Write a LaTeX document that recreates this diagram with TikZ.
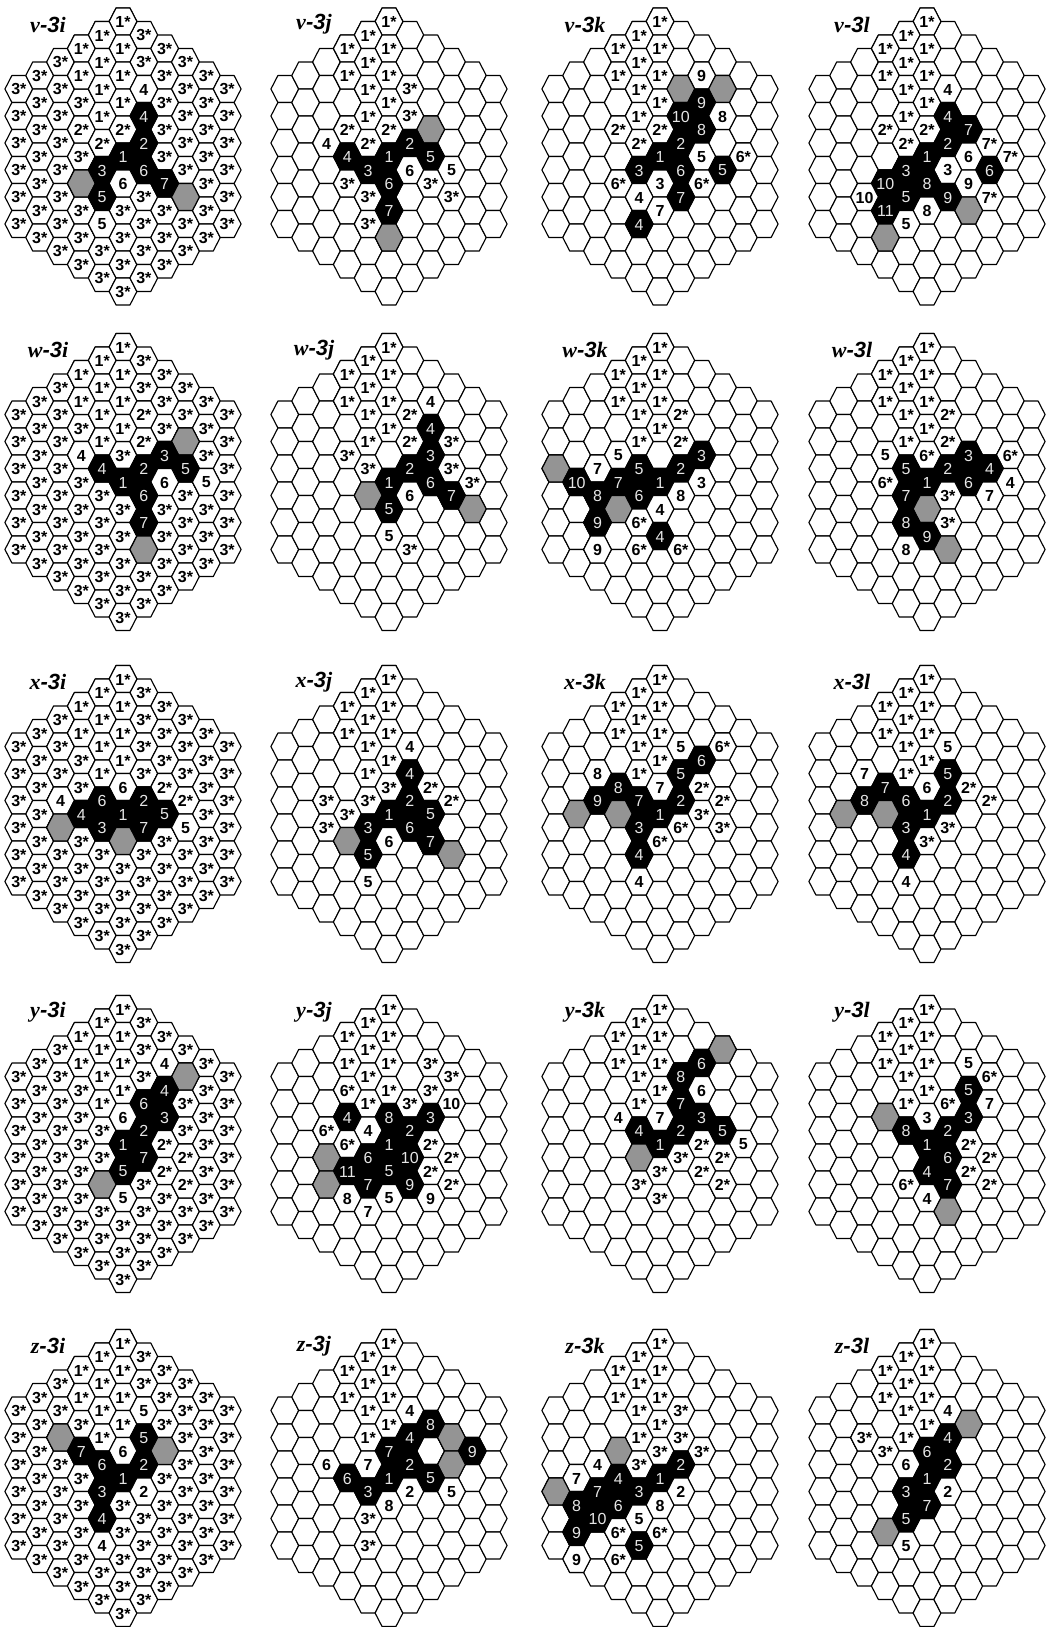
\documentclass[tikz,border=0pt]{standalone}
\usepackage{fontspec}
\setmainfont{Liberation Serif}
\setsansfont{Liberation Sans}
\usetikzlibrary{positioning}

\tikzset{
  wcell/.style={draw=black,line width=0.85pt,fill=white,line join=round},
  bcell/.style={draw=black,line width=0.85pt,fill=black,line join=round},
  gcell/.style={draw=black,line width=0.85pt,fill=black!42,line join=round},
  wlabel/.style={inner sep=0pt,font=\fontsize{12}{12}\selectfont\sffamily\bfseries,text=black},
  blabel/.style={inner sep=0pt,font=\fontsize{12}{12}\selectfont\sffamily,text=black!10},
  title/.style={inner sep=0pt,font=\fontsize{16.5}{18}\selectfont\bfseries}
}

\newcommand\hexpath{++(-13.9,0) -- ++(6.95,-13.5) -- ++(13.9,0) -- ++(6.95,13.5) -- ++(-6.95,13.5) -- ++(-13.9,0) -- cycle}
\newcommand\hexcell[5]{%
  \path[#3] (#1*20.83,#2*13.5) \hexpath;
  \node[#4] (c#1h#2) at (#1*20.83,#2*13.5+0.5) {#5};}
\newcommand\whex[3]{\hexcell{#1}{#2}{wcell}{wlabel}{#3}}
\newcommand\bhex[3]{\hexcell{#1}{#2}{bcell}{blabel}{#3}}
\newcommand\ghex[2]{\hexcell{#1}{#2}{gcell}{wlabel}{}}

% whole board, default label #1, then the 1* cells
\newcommand\board[1]{%
  \foreach \c in {-5,...,5}{%
    \pgfmathtruncatemacro\hlo{abs(\c)}%
    \pgfmathtruncatemacro\hnx{abs(\c)+2}%
    \pgfmathtruncatemacro\hhi{20-abs(\c)}%
    \foreach \h in {\hlo,\hnx,...,\hhi}{\whex{\c}{\h}{#1}}%
  }%
  \foreach \c/\h in {0/0,-1/1,-2/2,0/2,-1/3,-2/4,0/4,-1/5,0/6,-1/7}{\whex{\c}{\h}{1*}}%
}
\newcommand\paneltitle[2]{\node[title] (title) at (-75,3) {\textit{#1}\textsf{\textit{-3}}\textit{#2}};}

\begin{document}
\begin{tikzpicture}[x=0.75pt,y=-0.75pt]
  \useasboundingbox (0,0) rectangle (1056,1627);
  \fill[white] (0,0) rectangle (1056,1627);

  % row v
  \begin{scope}[shift={(123,21.5)},name prefix=v3i-]
    \board{3*}
    \whex{1}{5}{4} \bhex{1}{7}{4}
    \whex{-2}{8}{2*} \whex{0}{8}{2*} \whex{-1}{9}{2*}
    \bhex{1}{9}{2} \bhex{0}{10}{1} \bhex{-1}{11}{3} \bhex{1}{11}{6}
    \ghex{-2}{12} \whex{0}{12}{6} \bhex{2}{12}{7}
    \bhex{-1}{13}{5} \ghex{3}{13}
    \whex{-1}{15}{5}
    \paneltitle{v}{i}
  \end{scope}

  \begin{scope}[shift={(389,21.5)},name prefix=v3j-]
    \board{}
    \whex{1}{5}{3*} \whex{1}{7}{3*} \ghex{2}{8} \whex{-2}{8}{2*} \whex{0}{8}{2*}
    \whex{-3}{9}{4} \whex{-1}{9}{2*} \bhex{1}{9}{2}
    \bhex{-2}{10}{4} \bhex{0}{10}{1} \bhex{2}{10}{5}
    \bhex{-1}{11}{3} \whex{1}{11}{6} \whex{3}{11}{5}
    \whex{-2}{12}{3*} \bhex{0}{12}{6} \whex{2}{12}{3*}
    \whex{-1}{13}{3*} \whex{3}{13}{3*}
    \bhex{0}{14}{7} \whex{-1}{15}{3*} \ghex{0}{16}
    \paneltitle{v}{j}
  \end{scope}

  \begin{scope}[shift={(660,21.5)},name prefix=v3k-]
    \board{}
    \whex{2}{4}{9} \ghex{1}{5} \ghex{3}{5} \bhex{2}{6}{9} \bhex{1}{7}{10} \whex{3}{7}{8}
    \whex{-2}{8}{2*} \whex{0}{8}{2*} \bhex{2}{8}{8}
    \whex{-1}{9}{2*} \bhex{1}{9}{2}
    \bhex{0}{10}{1} \whex{2}{10}{5} \whex{4}{10}{6*}
    \bhex{-1}{11}{3} \bhex{1}{11}{6} \bhex{3}{11}{5}
    \whex{-2}{12}{6*} \whex{0}{12}{3} \whex{2}{12}{6*}
    \whex{-1}{13}{4} \bhex{1}{13}{7}
    \whex{0}{14}{7} \bhex{-1}{15}{4}
    \paneltitle{v}{k}
  \end{scope}

  \begin{scope}[shift={(927,21.5)},name prefix=v3l-]
    \board{}
    \whex{1}{5}{4} \bhex{1}{7}{4} \whex{-2}{8}{2*} \whex{0}{8}{2*} \bhex{2}{8}{7}
    \whex{-1}{9}{2*} \bhex{1}{9}{2} \whex{3}{9}{7*}
    \bhex{0}{10}{1} \whex{2}{10}{6} \whex{4}{10}{7*}
    \bhex{-1}{11}{3} \whex{1}{11}{3} \bhex{3}{11}{6}
    \bhex{-2}{12}{10} \bhex{0}{12}{8} \whex{2}{12}{9}
    \whex{-3}{13}{10} \bhex{-1}{13}{5} \bhex{1}{13}{9} \whex{3}{13}{7*}
    \bhex{-2}{14}{11} \whex{0}{14}{8} \ghex{2}{14}
    \whex{-1}{15}{5} \ghex{-2}{16}
    \paneltitle{v}{l}
  \end{scope}

  % row w
  \begin{scope}[shift={(123,347)},name prefix=w3i-]
    \board{3*}
    \whex{1}{5}{2*} \whex{1}{7}{2*} \ghex{3}{7}
    \whex{-2}{8}{4} \bhex{2}{8}{3}
    \bhex{-1}{9}{4} \bhex{1}{9}{2} \bhex{3}{9}{5}
    \bhex{0}{10}{1} \whex{2}{10}{6} \whex{4}{10}{5}
    \bhex{1}{11}{6} \bhex{1}{13}{7} \ghex{1}{15}
    \paneltitle{w}{i}
  \end{scope}

  \begin{scope}[shift={(389,347)},name prefix=w3j-]
    \board{}
    \whex{2}{4}{4} \whex{1}{5}{2*} \bhex{2}{6}{4} \whex{1}{7}{2*} \whex{3}{7}{3*}
    \whex{-2}{8}{3*} \bhex{2}{8}{3}
    \whex{-1}{9}{3*} \bhex{1}{9}{2} \whex{3}{9}{3*}
    \bhex{0}{10}{1} \bhex{2}{10}{6} \whex{4}{10}{3*}
    \ghex{-1}{11} \whex{1}{11}{6} \bhex{3}{11}{7}
    \bhex{0}{12}{5} \ghex{4}{12}
    \whex{0}{14}{5} \whex{1}{15}{3*}
    \paneltitle{w}{j}
  \end{scope}

  \begin{scope}[shift={(660,347)},name prefix=w3k-]
    \board{}
    \whex{1}{5}{2*} \whex{1}{7}{2*}
    \whex{-2}{8}{5} \bhex{2}{8}{3}
    \ghex{-5}{9} \whex{-3}{9}{7} \bhex{-1}{9}{5} \bhex{1}{9}{2}
    \bhex{-4}{10}{10} \bhex{-2}{10}{7} \bhex{0}{10}{1} \whex{2}{10}{3}
    \bhex{-3}{11}{8} \bhex{-1}{11}{6} \whex{1}{11}{8}
    \ghex{-2}{12} \whex{0}{12}{4}
    \bhex{-3}{13}{9} \whex{-1}{13}{6*}
    \bhex{0}{14}{4}
    \whex{-3}{15}{9} \whex{-1}{15}{6*} \whex{1}{15}{6*}
    \paneltitle{w}{k}
  \end{scope}

  \begin{scope}[shift={(927,347)},name prefix=w3l-]
    \board{}
    \whex{1}{5}{2*} \whex{1}{7}{2*}
    \whex{-2}{8}{5} \whex{0}{8}{6*} \bhex{2}{8}{3} \whex{4}{8}{6*}
    \bhex{-1}{9}{5} \bhex{1}{9}{2} \bhex{3}{9}{4}
    \whex{-2}{10}{6*} \bhex{0}{10}{1} \bhex{2}{10}{6} \whex{4}{10}{4}
    \bhex{-1}{11}{7} \whex{1}{11}{3*} \whex{3}{11}{7}
    \ghex{0}{12}
    \bhex{-1}{13}{8} \whex{1}{13}{3*}
    \bhex{0}{14}{9}
    \whex{-1}{15}{8} \ghex{1}{15}
    \paneltitle{w}{l}
  \end{scope}

  % row x
  \begin{scope}[shift={(123,679)},name prefix=x3i-]
    \board{3*}
    \whex{0}{8}{6} \whex{2}{8}{2*}
    \whex{-3}{9}{4} \bhex{-1}{9}{6} \bhex{1}{9}{2} \whex{3}{9}{2*}
    \bhex{-2}{10}{4} \bhex{0}{10}{1} \bhex{2}{10}{5}
    \ghex{-3}{11} \bhex{-1}{11}{3} \bhex{1}{11}{7} \whex{3}{11}{5}
    \ghex{0}{12}
    \paneltitle{x}{i}
  \end{scope}

  \begin{scope}[shift={(389,679)},name prefix=x3j-]
    \board{}
    \whex{1}{5}{4} \bhex{1}{7}{4}
    \whex{0}{8}{3*} \whex{2}{8}{2*}
    \whex{-3}{9}{3*} \whex{-1}{9}{3*} \bhex{1}{9}{2} \whex{3}{9}{2*}
    \whex{-2}{10}{3*} \bhex{0}{10}{1} \bhex{2}{10}{5}
    \whex{-3}{11}{3*} \bhex{-1}{11}{3} \bhex{1}{11}{6}
    \ghex{-2}{12} \whex{0}{12}{6} \bhex{2}{12}{7}
    \bhex{-1}{13}{5} \ghex{3}{13}
    \whex{-1}{15}{5}
    \paneltitle{x}{j}
  \end{scope}

  \begin{scope}[shift={(660,679)},name prefix=x3k-]
    \board{}
    \whex{1}{5}{5} \whex{3}{5}{6*} \bhex{2}{6}{6}
    \whex{-3}{7}{8} \bhex{1}{7}{5}
    \bhex{-2}{8}{8} \whex{0}{8}{7} \whex{2}{8}{2*}
    \bhex{-3}{9}{9} \bhex{-1}{9}{7} \bhex{1}{9}{2} \whex{3}{9}{2*}
    \ghex{-4}{10} \ghex{-2}{10} \bhex{0}{10}{1} \whex{2}{10}{3*}
    \bhex{-1}{11}{3} \whex{1}{11}{6*} \whex{3}{11}{3*}
    \whex{0}{12}{6*}
    \bhex{-1}{13}{4}
    \whex{-1}{15}{4}
    \paneltitle{x}{k}
  \end{scope}

  \begin{scope}[shift={(927,679)},name prefix=x3l-]
    \board{}
    \whex{1}{5}{5}
    \whex{-3}{7}{7} \bhex{1}{7}{5}
    \bhex{-2}{8}{7} \whex{0}{8}{6} \whex{2}{8}{2*}
    \bhex{-3}{9}{8} \bhex{-1}{9}{6} \bhex{1}{9}{2} \whex{3}{9}{2*}
    \ghex{-4}{10} \ghex{-2}{10} \bhex{0}{10}{1}
    \bhex{-1}{11}{3} \whex{1}{11}{3*}
    \whex{0}{12}{3*}
    \bhex{-1}{13}{4}
    \whex{-1}{15}{4}
    \paneltitle{x}{l}
  \end{scope}

  % row y
  \begin{scope}[shift={(123,1009)},name prefix=y3i-]
    \board{3*}
    \whex{2}{4}{4} \ghex{3}{5}
    \bhex{2}{6}{4} \bhex{1}{7}{6}
    \whex{0}{8}{6} \bhex{2}{8}{3}
    \bhex{1}{9}{2}
    \bhex{0}{10}{1} \whex{2}{10}{2*}
    \bhex{1}{11}{7} \whex{3}{11}{2*}
    \bhex{0}{12}{5} \whex{2}{12}{2*}
    \ghex{-1}{13} \whex{3}{13}{2*}
    \whex{0}{14}{5}
    \paneltitle{y}{i}
  \end{scope}

  \begin{scope}[shift={(389,1009)},name prefix=y3j-]
    \board{}
    \whex{2}{4}{3*} \whex{3}{5}{3*} \whex{-2}{6}{6*} \whex{2}{6}{3*}
    \whex{1}{7}{3*} \whex{3}{7}{10}
    \bhex{-2}{8}{4} \bhex{0}{8}{8} \bhex{2}{8}{3}
    \whex{-3}{9}{6*} \whex{-1}{9}{4} \bhex{1}{9}{2}
    \whex{-2}{10}{6*} \bhex{0}{10}{1} \whex{2}{10}{2*}
    \ghex{-3}{11} \bhex{-1}{11}{6} \bhex{1}{11}{10} \whex{3}{11}{2*}
    \bhex{-2}{12}{11} \bhex{0}{12}{5} \whex{2}{12}{2*}
    \ghex{-3}{13} \bhex{-1}{13}{7} \bhex{1}{13}{9} \whex{3}{13}{2*}
    \whex{-2}{14}{8} \whex{0}{14}{5} \whex{2}{14}{9}
    \whex{-1}{15}{7}
    \paneltitle{y}{j}
  \end{scope}

  \begin{scope}[shift={(660,1009)},name prefix=y3k-]
    \board{}
    \ghex{3}{3} \bhex{2}{4}{6} \bhex{1}{5}{8} \whex{2}{6}{6} \bhex{1}{7}{7}
    \whex{-2}{8}{4} \whex{0}{8}{7} \bhex{2}{8}{3}
    \bhex{-1}{9}{4} \bhex{1}{9}{2} \bhex{3}{9}{5}
    \bhex{0}{10}{1} \whex{2}{10}{2*} \whex{4}{10}{5}
    \ghex{-1}{11} \whex{1}{11}{3*} \whex{3}{11}{2*}
    \whex{0}{12}{3*} \whex{2}{12}{2*}
    \whex{-1}{13}{3*} \whex{3}{13}{2*}
    \whex{0}{14}{3*}
    \paneltitle{y}{k}
  \end{scope}

  \begin{scope}[shift={(927,1009)},name prefix=y3l-]
    \board{}
    \whex{2}{4}{5} \whex{3}{5}{6*} \bhex{2}{6}{5}
    \whex{1}{7}{6*} \whex{3}{7}{7}
    \ghex{-2}{8} \whex{0}{8}{3} \bhex{2}{8}{3}
    \bhex{-1}{9}{8} \bhex{1}{9}{2}
    \bhex{0}{10}{1} \whex{2}{10}{2*}
    \bhex{1}{11}{6} \whex{3}{11}{2*}
    \bhex{0}{12}{4} \whex{2}{12}{2*}
    \whex{-1}{13}{6*} \bhex{1}{13}{7} \whex{3}{13}{2*}
    \whex{0}{14}{4} \ghex{1}{15}
    \paneltitle{y}{l}
  \end{scope}

  % row z
  \begin{scope}[shift={(123,1343)},name prefix=z3i-]
    \board{3*}
    \whex{1}{5}{5} \ghex{-3}{7} \bhex{1}{7}{5}
    \bhex{-2}{8}{7} \whex{0}{8}{6} \ghex{2}{8}
    \bhex{-1}{9}{6} \bhex{1}{9}{2}
    \bhex{0}{10}{1}
    \bhex{-1}{11}{3} \whex{1}{11}{2}
    \bhex{-1}{13}{4}
    \whex{-1}{15}{4}
    \paneltitle{z}{i}
  \end{scope}

  \begin{scope}[shift={(389,1343)},name prefix=z3j-]
    \board{}
    \whex{1}{5}{4} \bhex{2}{6}{8} \bhex{1}{7}{4} \ghex{3}{7}
    \bhex{0}{8}{7} \bhex{4}{8}{9}
    \whex{-3}{9}{6} \whex{-1}{9}{7} \bhex{1}{9}{2} \ghex{3}{9}
    \bhex{-2}{10}{6} \bhex{0}{10}{1} \bhex{2}{10}{5}
    \bhex{-1}{11}{3} \whex{1}{11}{2} \whex{3}{11}{5}
    \whex{0}{12}{8}
    \whex{-1}{13}{3*}
    \whex{-1}{15}{3*}
    \paneltitle{z}{j}
  \end{scope}

  \begin{scope}[shift={(660,1343)},name prefix=z3k-]
    \board{}
    \whex{1}{5}{3*} \whex{1}{7}{3*}
    \ghex{-2}{8} \whex{0}{8}{3*} \whex{2}{8}{3*}
    \whex{-3}{9}{4} \whex{-1}{9}{3*} \bhex{1}{9}{2}
    \whex{-4}{10}{7} \bhex{-2}{10}{4} \bhex{0}{10}{1}
    \ghex{-5}{11} \bhex{-3}{11}{7} \bhex{-1}{11}{3} \whex{1}{11}{2}
    \bhex{-4}{12}{8} \bhex{-2}{12}{6} \whex{0}{12}{8}
    \bhex{-3}{13}{10} \whex{-1}{13}{5}
    \bhex{-4}{14}{9} \whex{-2}{14}{6*} \whex{0}{14}{6*}
    \bhex{-1}{15}{5}
    \whex{-4}{16}{9} \whex{-2}{16}{6*}
    \paneltitle{z}{k}
  \end{scope}

  \begin{scope}[shift={(927,1343)},name prefix=z3l-]
    \board{}
    \whex{1}{5}{4} \ghex{2}{6} \whex{-3}{7}{3*} \bhex{1}{7}{4}
    \whex{-2}{8}{3*} \bhex{0}{8}{6}
    \whex{-1}{9}{6} \bhex{1}{9}{2}
    \bhex{0}{10}{1}
    \bhex{-1}{11}{3} \whex{1}{11}{2}
    \bhex{0}{12}{7}
    \bhex{-1}{13}{5} \ghex{-2}{14}
    \whex{-1}{15}{5}
    \paneltitle{z}{l}
  \end{scope}
\end{tikzpicture}
\end{document}
